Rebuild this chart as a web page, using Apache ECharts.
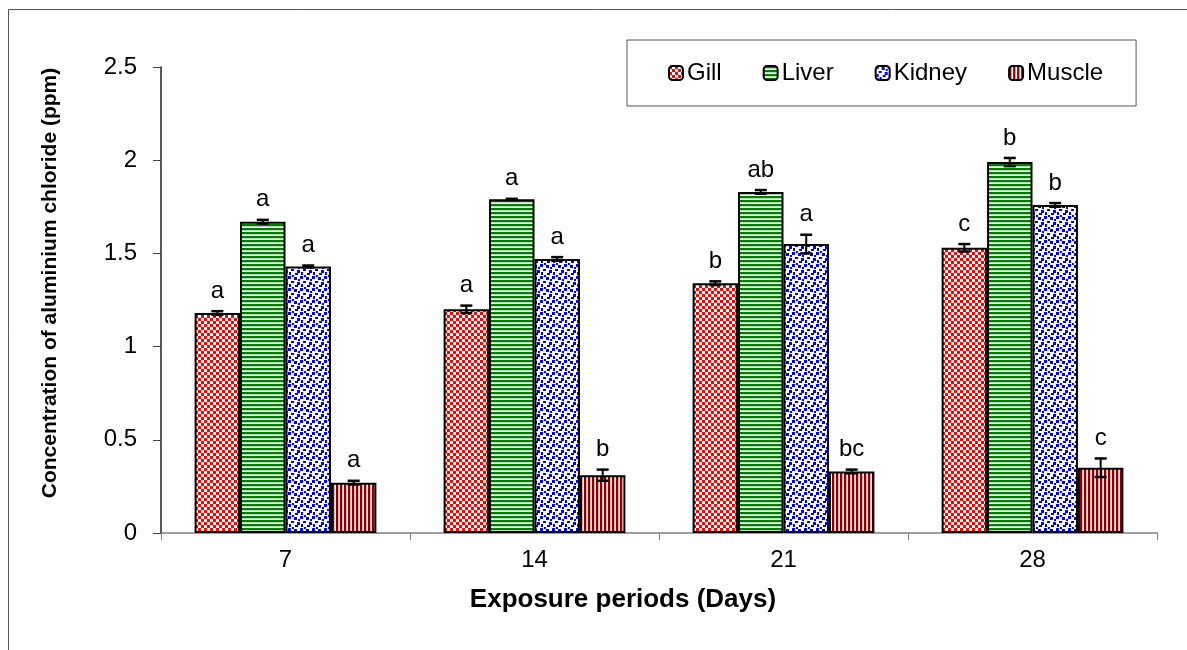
<!DOCTYPE html>
<html>
<head>
<meta charset="utf-8">
<script src="https://cdn.jsdelivr.net/npm/echarts@6/dist/echarts.min.js"></script>
<style>html,body{margin:0;padding:0;background:#fff;}#c{width:1187px;height:650px;}</style>
</head>
<body>
<div id="c"></div>
<script>
var categories = ['7', '14', '21', '28'];
var tissues = ['Gill', 'Liver', 'Kidney', 'Muscle'];
var gillValues = [1.18, 1.20, 1.34, 1.53];
var liverValues = [1.67, 1.79, 1.83, 1.99];
var kidneyValues = [1.43, 1.47, 1.55, 1.76];
var muscleValues = [0.27, 0.31, 0.33, 0.35];
var gillErrors = [0.01, 0.02, 0.01, 0.02];
var liverErrors = [0.01, 0.003, 0.01, 0.022];
var kidneyErrors = [0.005, 0.01, 0.05, 0.01];
var muscleErrors = [0.01, 0.03, 0.01, 0.05];
var gillLetters = ['a', 'a', 'b', 'c'];
var liverLetters = ['a', 'a', 'ab', 'b'];
var kidneyLetters = ['a', 'a', 'a', 'b'];
var muscleLetters = ['a', 'b', 'bc', 'c'];
var yTicks = [0, 0.5, 1, 1.5, 2, 2.5];

var FONT = '"Liberation Sans", Arial, Helvetica, sans-serif';

function makeCanvas(w, h, draw) {
  var c = document.createElement('canvas');
  c.width = w; c.height = h;
  var ctx = c.getContext('2d');
  ctx.fillStyle = '#fff'; ctx.fillRect(0, 0, w, h);
  draw(ctx);
  return c;
}
var gillPat = makeCanvas(6, 6, function (ctx) {
  ctx.fillStyle = '#ff0000';
  ctx.fillRect(0, 0, 3, 3); ctx.fillRect(3, 3, 3, 3);
});
var liverPat = makeCanvas(4, 4, function (ctx) {
  ctx.fillStyle = '#008000'; ctx.fillRect(0, 0, 4, 2);
  ctx.fillStyle = '#b8d8b8'; ctx.fillRect(0, 2, 4, 1);
});
var kidneyPat = makeCanvas(12, 12, function (ctx) {
  ctx.fillStyle = '#0000ff';
  var pts = [[0,0,3,3],[6,1,3,3],[3,5,3,2],[9,6,3,3],[1,8,2,3],[7,9,3,2],[4,11,2,1],[10,3,2,2],[4,0,2,1]];
  pts.forEach(function (p) { ctx.fillRect(p[0], p[1], p[2], p[3]); });
});
var musclePat = makeCanvas(4, 4, function (ctx) {
  ctx.fillStyle = '#8b0000'; ctx.fillRect(0, 0, 2, 4);
  ctx.fillStyle = '#e0b0b0'; ctx.fillRect(2, 0, 1, 4);
});
var patterns = [gillPat, liverPat, kidneyPat, musclePat];
var valuesList = [gillValues, liverValues, kidneyValues, muscleValues];
var errorsList = [gillErrors, liverErrors, kidneyErrors, muscleErrors];
var lettersList = [gillLetters, liverLetters, kidneyLetters, muscleLetters];

var GAP = 0.27;
var series = [];
tissues.forEach(function (name, i) {
  series.push({
    name: name,
    type: 'bar',
    barGap: '0%',
    barCategoryGap: (GAP * 100) + '%',
    data: valuesList[i],
    itemStyle: {
      color: { image: patterns[i], repeat: 'repeat' },
      borderColor: '#000',
      borderWidth: 2
    },
    emphasis: { disabled: true },
    z: 2
  });
});
tissues.forEach(function (name, i) {
  var data = valuesList[i].map(function (v, k) { return [k, v, errorsList[i][k], lettersList[i][k]]; });
  series.push({
    name: name + ' err',
    type: 'custom',
    data: data,
    z: 5,
    silent: true,
    renderItem: function (params, api) {
      var cat = api.value(0), v = api.value(1), e = api.value(2);
      var letter = data[params.dataIndex][3];
      var band = api.size([1, 0])[0];
      var bw = band * (1 - GAP) / 4;
      var base = api.coord([cat, v]);
      var x = base[0] + (i - 1.5) * bw;
      var yTop = api.coord([cat, v + e])[1];
      var yBot = api.coord([cat, v - e])[1];
      var cap = 6;
      var st = { stroke: '#000', lineWidth: 2 };
      return {
        type: 'group',
        children: [
          { type: 'line', shape: { x1: x, y1: yTop, x2: x, y2: yBot }, style: st },
          { type: 'line', shape: { x1: x - cap, y1: yTop, x2: x + cap, y2: yTop }, style: { stroke: '#000', lineWidth: 2.5 } },
          { type: 'line', shape: { x1: x - cap, y1: yBot, x2: x + cap, y2: yBot }, style: { stroke: '#000', lineWidth: 2.5 } },
          { type: 'text', style: { text: letter, x: x, y: yTop - 8, align: 'center', verticalAlign: 'bottom',
              font: '24px ' + FONT, fill: '#000' } }
        ]
      };
    }
  });
});

var chart = echarts.init(document.getElementById('c'), null, { renderer: 'canvas' });
chart.setOption({
  animation: false,
  backgroundColor: '#fff',
  grid: { left: 161, right: 30, top: 67, bottom: 117, containLabel: false },
  legend: {
    data: tissues,
    left: 627, top: 40,
    orient: 'horizontal',
    padding: [21, 33, 21, 41],
    itemGap: 41,
    itemWidth: 14, itemHeight: 14,
    borderColor: '#555', borderWidth: 1,
    selectedMode: false,
    textStyle: { fontFamily: FONT, fontSize: 24, color: '#000', padding: [0, 0, 0, -1] }
  },
  xAxis: {
    type: 'category',
    data: categories,
    name: 'Exposure periods (Days)',
    nameLocation: 'middle',
    nameGap: 54,
    nameTextStyle: { fontFamily: FONT, fontSize: 26, fontWeight: 'bold', color: '#000', padding: [0, 72, 0, 0] },
    axisLine: { lineStyle: { color: '#808080', width: 1.5 } },
    axisTick: { show: true, length: 7, lineStyle: { color: '#808080' } },
    axisLabel: { fontFamily: FONT, fontSize: 24, color: '#000', margin: 15 }
  },
  yAxis: {
    type: 'value',
    min: 0, max: 2.5, interval: 0.5,
    name: 'Concentration of aluminium chloride (ppm)',
    nameLocation: 'middle',
    nameGap: 100,
    nameRotate: 90,
    nameTextStyle: { fontFamily: FONT, fontSize: 21, fontWeight: 'bold', color: '#000', padding: [0, 0, 0, 34] },
    axisLine: { show: true, lineStyle: { color: '#222', width: 1.5 } },
    axisTick: { show: true, length: 8, lineStyle: { color: '#444' } },
    splitLine: { show: false },
    axisLabel: { fontFamily: FONT, fontSize: 24, color: '#000', margin: 24,
      formatter: function (v) { return String(v); } }
  },
  graphic: [
    { type: 'line', shape: { x1: 8.5, y1: 9.5, x2: 1187, y2: 9.5 }, style: { stroke: '#555', lineWidth: 1 } },
    { type: 'line', shape: { x1: 8.5, y1: 9.5, x2: 8.5, y2: 650 }, style: { stroke: '#555', lineWidth: 1 } }
  ],
  series: series
});
</script>
</body>
</html>
